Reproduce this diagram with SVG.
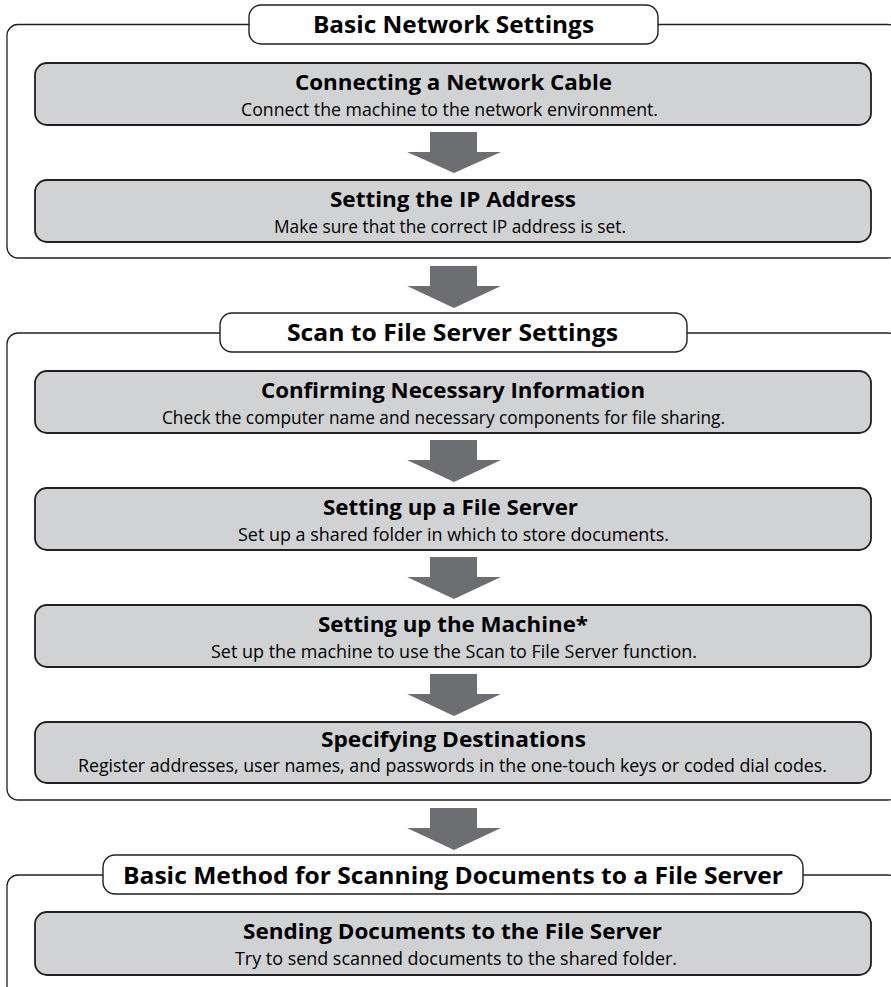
<svg xmlns="http://www.w3.org/2000/svg" width="891" height="987" viewBox="0 0 891 987">
<style>
.frame{fill:none;stroke:#231f20;stroke-width:1.3}
.pill{fill:#ffffff;stroke:#231f20;stroke-width:1.4}
.node{fill:#d1d2d4;stroke:#231f20;stroke-width:1.8}
.arrow{fill:#6d6e71}
.sec{font-family:"Open Sans","Liberation Sans",sans-serif;font-weight:bold;font-size:23px;fill:#000;text-anchor:middle}
.ttl{font-family:"Open Sans","Liberation Sans",sans-serif;font-weight:bold;font-size:21.5px;fill:#000;text-anchor:middle}
.sub{font-family:"Open Sans","Liberation Sans",sans-serif;font-size:18px;fill:#000;text-anchor:middle}
</style>
<rect width="891" height="987" fill="#ffffff"/>
<g id="frames">
<rect class="frame" x="7" y="24.5" width="892" height="233.5" rx="11"/>
<rect class="frame" x="7" y="333" width="892" height="467" rx="11"/>
<rect class="frame" x="7" y="875" width="892" height="140" rx="11"/>
</g>
<g id="section1">
<rect class="pill" x="249" y="5" width="409" height="39" rx="12"/>
<text class="sec" x="453.5" y="33" textLength="281" lengthAdjust="spacingAndGlyphs">Basic Network Settings</text>
</g>
<g id="section2">
<rect class="pill" x="220" y="313" width="467" height="39" rx="12"/>
<text class="sec" x="452.5" y="341" textLength="331" lengthAdjust="spacingAndGlyphs">Scan to File Server Settings</text>
</g>
<g id="section3">
<rect class="pill" x="103" y="855" width="700" height="39" rx="12"/>
<text class="sec" x="453" y="884" textLength="660" lengthAdjust="spacingAndGlyphs">Basic Method for Scanning Documents to a File Server</text>
</g>
<g id="node1">
<rect class="node" x="35" y="63" width="836" height="62" rx="12"/>
<text class="ttl" x="453.5" y="90" textLength="317" lengthAdjust="spacingAndGlyphs">Connecting a Network Cable</text>
<text class="sub" x="449.5" y="116" textLength="417" lengthAdjust="spacingAndGlyphs">Connect the machine to the network environment.</text>
</g>
<g id="node2">
<rect class="node" x="35" y="180" width="836" height="62" rx="12"/>
<text class="ttl" x="453" y="207" textLength="246" lengthAdjust="spacingAndGlyphs">Setting the IP Address</text>
<text class="sub" x="450" y="233" textLength="352" lengthAdjust="spacingAndGlyphs">Make sure that the correct IP address is set.</text>
</g>
<g id="node3">
<rect class="node" x="35" y="371" width="836" height="62" rx="12"/>
<text class="ttl" x="453" y="398" textLength="384" lengthAdjust="spacingAndGlyphs">Confirming Necessary Information</text>
<text class="sub" x="443.5" y="424" textLength="563" lengthAdjust="spacingAndGlyphs">Check the computer name and necessary components for file sharing.</text>
</g>
<g id="node4">
<rect class="node" x="35" y="488" width="836" height="62" rx="12"/>
<text class="ttl" x="450.5" y="515" textLength="255" lengthAdjust="spacingAndGlyphs">Setting up a File Server</text>
<text class="sub" x="453.5" y="541" textLength="431" lengthAdjust="spacingAndGlyphs">Set up a shared folder in which to store documents.</text>
</g>
<g id="node5">
<rect class="node" x="35" y="605" width="836" height="62" rx="12"/>
<text class="ttl" x="453" y="632" textLength="270" lengthAdjust="spacingAndGlyphs">Setting up the Machine*</text>
<text class="sub" x="454" y="658" textLength="486" lengthAdjust="spacingAndGlyphs">Set up the machine to use the Scan to File Server function.</text>
</g>
<g id="node6">
<rect class="node" x="35" y="722" width="836" height="61" rx="12"/>
<text class="ttl" x="453.5" y="747" textLength="265" lengthAdjust="spacingAndGlyphs">Specifying Destinations</text>
<text class="sub" x="452.5" y="772" textLength="749" lengthAdjust="spacingAndGlyphs">Register addresses, user names, and passwords in the one-touch keys or coded dial codes.</text>
</g>
<g id="node7">
<rect class="node" x="35" y="912" width="836" height="63" rx="12"/>
<text class="ttl" x="452.5" y="939" textLength="419" lengthAdjust="spacingAndGlyphs">Sending Documents to the File Server</text>
<text class="sub" x="456" y="965" textLength="442" lengthAdjust="spacingAndGlyphs">Try to send scanned documents to the shared folder.</text>
</g>
<g id="connectors">
<polygon class="arrow" points="430,132 477,132 477,152 501,152 454,173 407,152 430,152"/>
<polygon class="arrow" points="430,266 477,266 477,286 501,286 454,308 407,286 430,286"/>
<polygon class="arrow" points="430,440 477,440 477,460 501,460 454,482 407,460 430,460"/>
<polygon class="arrow" points="430,557 477,557 477,577 501,577 454,599 407,577 430,577"/>
<polygon class="arrow" points="430,674 477,674 477,694 501,694 454,716 407,694 430,694"/>
<polygon class="arrow" points="430,808 477,808 477,828 501,828 454,850 407,828 430,828"/>
</g>
</svg>
